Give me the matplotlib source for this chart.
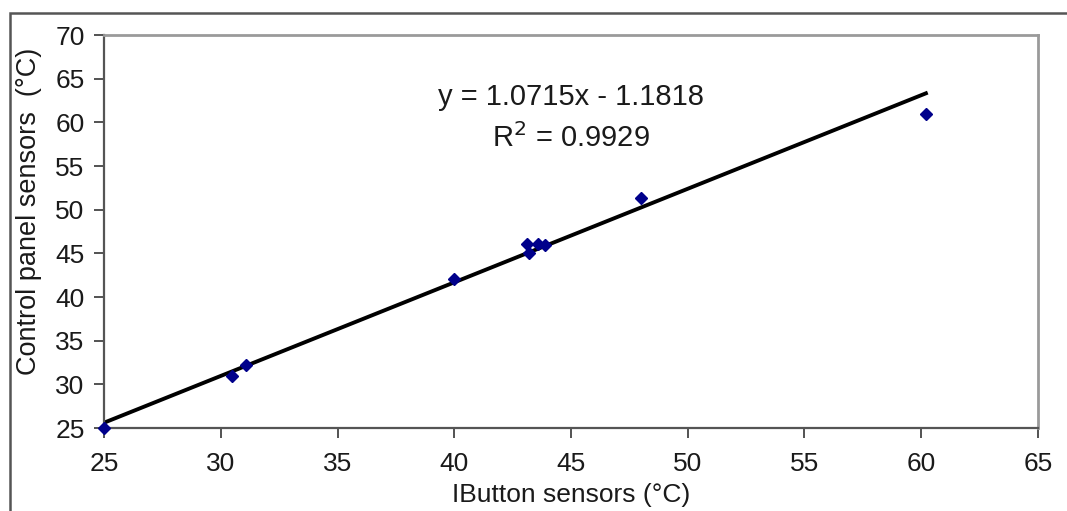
import numpy
import matplotlib.pyplot as plt
from matplotlib.patches import Rectangle

# readings: iButton sensor vs control panel sensor (deg C)
ibutton_temp = [25.0, 30.5, 31.1, 40.0, 43.1, 43.2, 43.6, 43.9, 48.0, 60.2]
panel_temp = [25.0, 31.0, 32.2, 42.1, 46.1, 45.0, 46.1, 46.0, 51.3, 61.0]

fit_slope = 1.0715
fit_intercept = -1.1818
fit_r2 = 0.9929

x_ticks = [25, 30, 35, 40, 45, 50, 55, 60, 65]
y_ticks = [25, 30, 35, 40, 45, 50, 55, 60, 65, 70]


def main():
    plt.rcParams['font.family'] = ['Liberation Sans', 'DejaVu Sans']
    fig = plt.figure(figsize=(10.67, 5.11), dpi=100)
    ax = fig.add_axes([0.0975, 0.1624, 0.8753, 0.7691])

    # outer chart border (runs off the right and bottom edges)
    fig.patches.append(Rectangle((0.0095, -0.05), 1.1, 0.9746 + 0.05,
                                 transform=fig.transFigure, fill=False,
                                 edgecolor='#555555', linewidth=1.8))

    x_fit = numpy.array([min(ibutton_temp), max(ibutton_temp)])
    ax.plot(x_fit, fit_slope * x_fit + fit_intercept, color='black', linewidth=2.8, zorder=2)
    ax.plot(ibutton_temp, panel_temp, linestyle='none', marker='D', markersize=6,
            color='#00008b', zorder=3, clip_on=False)

    ax.text(45, 62.9, 'y = 1.0715x - 1.1818', fontsize=21, ha='center', va='center', color='#1a1a1a')
    ax.text(45, 58.2, 'R$^2$ = %.4f' % fit_r2, fontsize=21, ha='center', va='center', color='#1a1a1a')

    ax.set_xlim(25, 65)
    ax.set_ylim(25, 70)
    ax.set_xticks(x_ticks)
    ax.set_yticks(y_ticks)
    ax.tick_params(axis='both', labelsize=19, length=7, width=1.3, color='#444444', labelcolor='#1a1a1a')
    ax.tick_params(axis='x', pad=10)
    ax.tick_params(axis='y', pad=7)

    ax.set_xlabel('IButton sensors (°C)', fontsize=19, color='#1a1a1a', labelpad=5)
    ax.set_ylabel('Control panel sensors  (°C)', fontsize=19.5, color='#1a1a1a')
    ax.yaxis.set_label_coords(-0.066, 0.552)

    for side in ['top', 'right']:
        ax.spines[side].set_color('#9a9a9a')
        ax.spines[side].set_linewidth(2)
    for side in ['left', 'bottom']:
        ax.spines[side].set_color('#555555')
        ax.spines[side].set_linewidth(1.6)

    fig.savefig('out.png', dpi=100)


if __name__ == "__main__":
    main()
